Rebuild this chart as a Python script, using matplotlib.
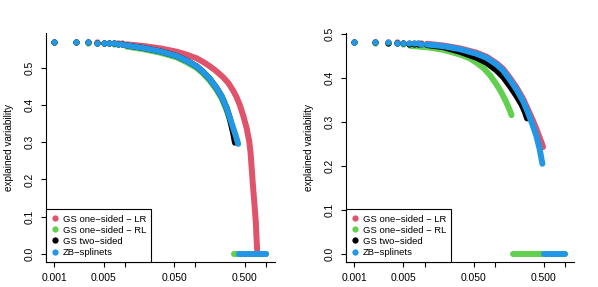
import numpy as np
import matplotlib
matplotlib.use('Agg')
import matplotlib.pyplot as plt
from matplotlib.ticker import FixedLocator, NullLocator, FixedFormatter

plt.rcParams['font.family'] = ['Liberation Sans', 'DejaVu Sans']

RED = '#DF536B'
GREEN = '#61D04F'
BLACK = '#000000'
BLUE = '#2297E6'

# sparse points at the left end (x grid of the first few knots)
sparse_x = [0.001, 0.002, 0.003, 0.004, 0.005, 0.006, 0.007, 0.008, 0.009]

# ---- left panel ----
l_sparse_red = [0.569, 0.5689, 0.5687, 0.5685, 0.5682, 0.5678, 0.5674, 0.567, 0.5666]
l_sparse_green = [0.569, 0.5686, 0.5681, 0.5675, 0.5668, 0.566, 0.5652, 0.5644, 0.5636]
l_sparse_black = [0.569, 0.5688, 0.5685, 0.5681, 0.5676, 0.567, 0.5663, 0.5656, 0.5648]
l_sparse_blue = [0.569, 0.5688, 0.5685, 0.5681, 0.5676, 0.567, 0.5663, 0.5656, 0.5648]

l_red_x = [0.0106, 0.0182, 0.0314, 0.0542, 0.075, 0.104, 0.129, 0.160, 0.199,
           0.2475, 0.292, 0.343, 0.3835, 0.427, 0.4755, 0.531, 0.578, 0.605,
           0.632, 0.66, 0.69, 0.718, 0.735, 0.75]
l_red_y = [0.5635, 0.5591, 0.5528, 0.5438, 0.5358, 0.5259, 0.5161, 0.5044, 0.4909,
           0.4748, 0.4596, 0.439, 0.4211, 0.3995, 0.3718, 0.3387, 0.3027, 0.2715,
           0.22, 0.173, 0.128, 0.083, 0.04, 0.01]

l_blue_x = [0.0106, 0.0182, 0.0314, 0.0542, 0.075, 0.104, 0.129, 0.160, 0.199,
            0.235, 0.2768, 0.3083, 0.343, 0.375, 0.4036]
l_blue_y = [0.5605, 0.5537, 0.5447, 0.5322, 0.5196, 0.5044, 0.4892, 0.4704, 0.4462,
            0.4237, 0.3924, 0.3656, 0.3387, 0.3161, 0.2957]

l_green_x = [0.0106, 0.0182, 0.0314, 0.0542, 0.075, 0.104, 0.129, 0.160, 0.199,
             0.235, 0.2768, 0.3083, 0.343]
l_green_y = [0.5575, 0.5505, 0.5412, 0.5285, 0.5155, 0.5, 0.4845, 0.4655, 0.441,
             0.418, 0.386, 0.358, 0.33]

l_black_x = [0.0106, 0.0182, 0.0314, 0.0542, 0.075, 0.104, 0.129, 0.160, 0.199,
             0.235, 0.2768, 0.3083, 0.343, 0.363]
l_black_y = [0.5605, 0.5537, 0.5447, 0.5322, 0.5196, 0.5044, 0.4892, 0.4704, 0.4462,
             0.4237, 0.3924, 0.3635, 0.324, 0.299]

l_zero_red = [0.75, 1.0]
l_zero_green = [0.35, 1.0]
l_zero_blue = [0.41, 1.0]

# ---- right panel ----
r_sparse_red = [0.482, 0.4819, 0.4817, 0.4815, 0.4812, 0.4809, 0.4806, 0.4802, 0.4798]
r_sparse_green = [0.482, 0.4812, 0.4803, 0.4793, 0.4783, 0.4772, 0.4762, 0.4752, 0.4742]
r_sparse_black = [0.482, 0.4815, 0.4809, 0.4803, 0.4797, 0.479, 0.4783, 0.4776, 0.4769]
r_sparse_blue = [0.482, 0.4818, 0.4815, 0.4811, 0.4807, 0.4802, 0.4797, 0.4792, 0.4787]

r_red_x = [0.0108, 0.0186, 0.032, 0.0552, 0.0765, 0.106, 0.1315, 0.1636, 0.2036,
           0.2525, 0.2972, 0.3497, 0.3908, 0.4355, 0.47, 0.485]
r_red_y = [0.4785, 0.4745, 0.468, 0.458, 0.449, 0.434, 0.421, 0.401, 0.379,
           0.353, 0.328, 0.303, 0.284, 0.264, 0.25, 0.243]

r_blue_x = [0.0108, 0.0186, 0.032, 0.0552, 0.0765, 0.106, 0.1315, 0.1636, 0.2036,
            0.2525, 0.2972, 0.3497, 0.3908, 0.4355, 0.4753]
r_blue_y = [0.4768, 0.473, 0.4661, 0.4555, 0.4464, 0.4312, 0.4175, 0.397, 0.3743,
            0.3477, 0.3211, 0.2907, 0.2679, 0.2376, 0.2049]

r_black_x = [0.0108, 0.0186, 0.032, 0.0552, 0.0765, 0.106, 0.1315, 0.1636, 0.2036,
             0.2397, 0.2673, 0.2878]
r_black_y = [0.4755, 0.4707, 0.4601, 0.4464, 0.435, 0.4175, 0.4024, 0.3818, 0.3591,
             0.3401, 0.3234, 0.3082]

r_green_x = [0.00627, 0.0108, 0.0186, 0.032, 0.0444, 0.0552, 0.0686, 0.0853, 0.106,
             0.1248, 0.1469, 0.1636, 0.1729]
r_green_y = [0.4737, 0.4707, 0.4646, 0.454, 0.4449, 0.435, 0.4236, 0.4069, 0.3856,
             0.3667, 0.3439, 0.3264, 0.3158]

r_zero_green = [0.18, 1.0]
r_zero_blue = [0.50, 1.0]

labels = ['GS one\u2212sided \u2212 LR', 'GS one\u2212sided \u2212 RL',
          'GS two\u2212sided', 'ZB\u2212splinets']
colors = [RED, GREEN, BLACK, BLUE]

xticks = [0.001, 0.005, 0.01, 0.05, 0.1, 0.5, 1.0]
xtick_labels = ['0.001', '0.005', '', '0.050', '', '0.500', '']
yticks = [0.0, 0.1, 0.2, 0.3, 0.4, 0.5]

LW = 4.3
MS = 4.5


def draw_series(ax, sx, sy, x, y, zeros, color):
    ax.plot(sx, sy, 'o', color=color, ms=MS, mew=0)
    ax.plot(x, y, '-', color=color, lw=LW, solid_capstyle='round',
            solid_joinstyle='round')
    if zeros is not None:
        ax.plot(zeros, [0, 0], '-', color=color, lw=LW, solid_capstyle='round')


def style_axes(ax, ylim):
    ax.set_xscale('log')
    ax.set_xlim(10 ** -3.118, 10 ** 0.127)
    ax.set_ylim(ylim)
    ax.xaxis.set_major_locator(FixedLocator(xticks))
    ax.xaxis.set_major_formatter(FixedFormatter(xtick_labels))
    ax.xaxis.set_minor_locator(NullLocator())
    ax.set_yticks(yticks)
    ax.set_yticklabels(['%.1f' % v for v in yticks], rotation=90, va='center')
    for s in ['top', 'right']:
        ax.spines[s].set_visible(False)
    for s in ['left', 'bottom']:
        ax.spines[s].set_linewidth(0.8)
    ax.tick_params(length=3.8, width=0.8, labelsize=7.4, pad=4.3)
    ax.set_ylabel('explained variability', fontsize=7.2)
    ax.yaxis.set_label_coords(-0.14, 0.5)
    handles = [plt.Line2D([], [], ls='', marker='o', ms=MS, mew=0, color=c)
               for c in colors]
    leg = ax.legend(handles, labels, loc='lower left', bbox_to_anchor=(0, 0),
                    borderaxespad=0, fontsize=6.8, frameon=True, fancybox=False,
                    edgecolor='black', framealpha=1, handlelength=0.8,
                    handletextpad=0.4, labelspacing=0.22, borderpad=0.55)
    leg.get_frame().set_linewidth(0.8)


fig = plt.figure(figsize=(5.98, 2.87), dpi=100)
ax1 = fig.add_axes([0.0769, 0.0871, 0.3829, 0.7979])
ax2 = fig.add_axes([0.5786, 0.0871, 0.3813, 0.7979])

draw_series(ax1, sparse_x, l_sparse_red, l_red_x, l_red_y, l_zero_red, RED)
draw_series(ax1, sparse_x, l_sparse_green, l_green_x, l_green_y, l_zero_green, GREEN)
draw_series(ax1, sparse_x, l_sparse_black, l_black_x, l_black_y, None, BLACK)
draw_series(ax1, sparse_x, l_sparse_blue, l_blue_x, l_blue_y, l_zero_blue, BLUE)
style_axes(ax1, (-0.022, 0.594))

draw_series(ax2, sparse_x, r_sparse_red, r_red_x, r_red_y, None, RED)
draw_series(ax2, sparse_x, r_sparse_green, r_green_x, r_green_y, r_zero_green, GREEN)
draw_series(ax2, sparse_x, r_sparse_black, r_black_x, r_black_y, None, BLACK)
draw_series(ax2, sparse_x, r_sparse_blue, r_blue_x, r_blue_y, r_zero_blue, BLUE)
style_axes(ax2, (-0.019, 0.503))

fig.savefig('out.png', dpi=100)
